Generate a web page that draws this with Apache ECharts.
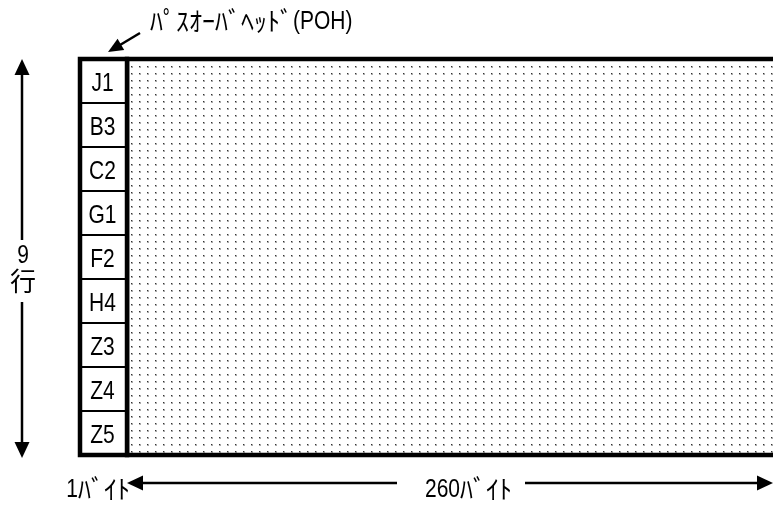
<!DOCTYPE html>
<html>
<head>
<meta charset="utf-8">
<script src="https://cdn.jsdelivr.net/npm/echarts@6/dist/echarts.min.js"></script>
<style>
html,body{margin:0;padding:0;background:#fff;}
#c{width:773px;height:509px;}
</style>
</head>
<body>
<div id="c"></div>
<script>
// ---- data ----
const rowLabels = ['J1', 'B3', 'C2', 'G1', 'F2', 'H4', 'Z3', 'Z4', 'Z5'];
const rowCount = 9;
const pohBytes = 1;
const payloadBytes = 260;
const byteLabels = ['1ﾊﾞｲﾄ', '260ﾊﾞｲﾄ'];
const titleLabel = 'ﾊﾟｽｵｰﾊﾞﾍｯﾄﾞ(POH)';
const rowAxisLabels = ['9', '行'];

// display extents (diagram is not to scale: POH column = 1 unit)
const xAxisMax = 14.74;
const payloadDisplayEnd = 20;

const LATIN = "'Liberation Sans', Arial, sans-serif";
const CJK = "'Noto Sans CJK JP', sans-serif";
const FS_LATIN = 25;
const FS_CJK = 26;
const NARROW = 0.84;

const mctx = document.createElement('canvas').getContext('2d');
function measure(t, fam, fs) { mctx.font = fs + 'px ' + fam; return mctx.measureText(t).width; }
function isWide(ch) { const c = ch.charCodeAt(0); return (c >= 0xFF61 && c <= 0xFF9F) || c >= 0x3000; }
function runs(s) {
  const out = [];
  for (const ch of s) {
    const w = isWide(ch);
    if (out.length && out[out.length - 1].wide === w) out[out.length - 1].t += ch;
    else out.push({t: ch, wide: w});
  }
  return out;
}
// mixed text: latin in condensed sans, katakana in CJK font
function mixed(s, x, y, align) {
  const rs = runs(s).map(r => {
    const fam = r.wide ? CJK : LATIN;
    const fs = r.wide ? FS_CJK : FS_LATIN;
    const sc = r.wide ? 1 : NARROW;
    return {t: r.t, fam: fam, fs: fs, sc: sc, dy: r.wide ? -1 : 0, w: measure(r.t, fam, fs) * sc};
  });
  const total = rs.reduce((a, r) => a + r.w, 0);
  let cx = align === 'right' ? x - total : align === 'center' ? x - total / 2 : x;
  const children = [];
  rs.forEach(r => {
    children.push({
      type: 'text',
      x: cx, y: y + r.dy, scaleX: r.sc, scaleY: 1, originX: 0, originY: 0,
      style: {text: r.t, x: 0, y: 0, align: 'left', verticalAlign: 'middle', fontFamily: r.fam, fontSize: r.fs, fill: '#000'}
    });
    cx += r.w;
  });
  return {type: 'group', children: children};
}

// dot pattern
const pat = document.createElement('canvas');
pat.width = 8; pat.height = 7;
const pctx = pat.getContext('2d');
pctx.fillStyle = '#aaa';
pctx.fillRect(3, 3, 2, 2);
pctx.fillStyle = '#333';
pctx.fillRect(3, 3, 1, 1);

const chart = echarts.init(document.getElementById('c'), null, {renderer: 'canvas'});

const pohData = rowLabels.map((l, i) => [i, l]);

chart.setOption({
  animation: false,
  backgroundColor: '#fff',
  grid: {left: 80, top: 59, width: 693, height: 396},
  xAxis: {type: 'value', min: 0, max: xAxisMax, show: false},
  yAxis: {type: 'value', min: 0, max: rowCount, inverse: true, show: false},
  series: [
    {
      type: 'custom', clip: false, z: 1,
      data: [[pohBytes, payloadBytes]],
      renderItem: function (params, api) {
        const a = api.coord([pohBytes, 0]);
        const b = api.coord([payloadDisplayEnd, rowCount]);
        return {
          type: 'rect',
          shape: {x: a[0], y: a[1], width: b[0] - a[0], height: b[1] - a[1]},
          style: {fill: {image: pat, repeat: 'repeat'}, stroke: '#000', lineWidth: 4.5}
        };
      }
    },
    {
      type: 'custom', clip: false, z: 2,
      data: pohData,
      renderItem: function (params, api) {
        const i = api.value(0);
        const a = api.coord([0, i]);
        const b = api.coord([pohBytes, i + 1]);
        return {
          type: 'group',
          children: [
            {
              type: 'rect',
              shape: {x: a[0], y: a[1], width: b[0] - a[0], height: b[1] - a[1]},
              style: {fill: '#fff', stroke: '#000', lineWidth: 2}
            },
            mixed(rowLabels[params.dataIndex], (a[0] + b[0]) / 2 - 1, (a[1] + b[1]) / 2 + 3, 'center')
          ]
        };
      }
    },
    {
      type: 'custom', clip: false, z: 3,
      data: [[0]],
      renderItem: function (params, api) {
        const a = api.coord([0, 0]);
        const b = api.coord([pohBytes, rowCount]);
        return {
          type: 'rect',
          shape: {x: a[0], y: a[1], width: b[0] - a[0], height: b[1] - a[1]},
          style: {fill: null, stroke: '#000', lineWidth: 4.5}
        };
      }
    }
  ]
});

// ---- annotations positioned from the axes ----
function px(v) { return chart.convertToPixel({gridIndex: 0}, v); }
function arrowHead(tip, from, len, half) {
  const dx = tip[0] - from[0], dy = tip[1] - from[1];
  const d = Math.sqrt(dx * dx + dy * dy);
  const ux = dx / d, uy = dy / d;
  const bx = tip[0] - ux * len, by = tip[1] - uy * len;
  return {
    type: 'polygon',
    shape: {points: [tip, [bx - uy * half, by + ux * half], [bx + uy * half, by - ux * half]]},
    style: {fill: '#000'}
  };
}
function seg(p, q) {
  return {type: 'line', shape: {x1: p[0], y1: p[1], x2: q[0], y2: q[1]}, style: {stroke: '#000', lineWidth: 2.5}};
}

const topLeft = px([0, 0]);
const bottomLeft = px([0, rowCount]);
const pohRight = px([pohBytes, rowCount]);
const ax = 22;
const topTip = [ax, topLeft[1]];
const botTip = [ax, bottomLeft[1] + 3];
const midY = (topLeft[1] + bottomLeft[1]) / 2;
const by = 483;
const g = [];
// vertical rows arrow
g.push(seg([ax, topTip[1] + 10], [ax, midY - 17]));
g.push(arrowHead(topTip, [ax, topTip[1] + 20], 16, 7.5));
g.push(seg([ax, midY + 45], [ax, botTip[1] - 10]));
g.push(arrowHead(botTip, [ax, botTip[1] - 20], 16, 7.5));
g.push(mixed(rowAxisLabels[0], ax + 1, midY - 1, 'center'));
g.push(mixed(rowAxisLabels[1], ax + 1, midY + 25, 'center'));
// horizontal bytes arrow
const lTip = [pohRight[0], by];
g.push(arrowHead(lTip, [lTip[0] + 20, by], 16, 7.5));
g.push(seg([lTip[0] + 10, by], [397, by]));
g.push(seg([525, by], [762, by]));
g.push(arrowHead([773, by], [750, by], 16, 7.5));
g.push(mixed(byteLabels[0], lTip[0] + 3, by + 7, 'right'));
g.push(mixed(byteLabels[1], 425, by + 7, 'left'));
// POH label + pointer
g.push(mixed(titleLabel, 150, 22, 'left'));
g.push(seg([140, 33], [120, 45]));
g.push(arrowHead([108, 52], [140, 33], 15, 6.5));

chart.setOption({graphic: {elements: g}});
</script>
</body>
</html>
